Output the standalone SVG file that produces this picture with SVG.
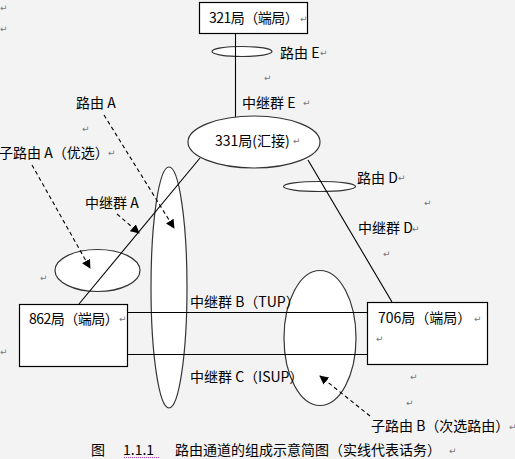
<svg xmlns="http://www.w3.org/2000/svg" width="515" height="459" viewBox="0 0 515 459">
<defs>
<style>
.t{font-family:"Noto Sans CJK SC","Noto Sans",sans-serif;font-size:14px;fill:#000}
.tt{letter-spacing:-0.5px}
.r{font-family:"DejaVu Sans",sans-serif;font-size:9px;fill:#777}
.box{fill:#fff;stroke:#000;stroke-width:1.2}
.ell{fill:#fff;stroke:#333;stroke-width:1.2}
.ln{stroke:#000;stroke-width:1.1;fill:none}
.da{stroke:#000;stroke-width:1.1;fill:none;stroke-dasharray:4 3;marker-end:url(#ah)}
</style>
<marker id="ah" viewBox="0 0 10 10" refX="9" refY="5" markerWidth="9" markerHeight="9" markerUnits="userSpaceOnUse" orient="auto">
<path d="M0,0 L10,5 L0,10 z" fill="#000"/>
</marker>
</defs>
<rect width="515" height="459" fill="#f3f3f3"/>

<g id="route-ellipses">
<ellipse id="routeA" class="ell" cx="169" cy="287.5" rx="18" ry="120.5"/>
<ellipse id="subrouteA" class="ell" cx="97.5" cy="270.5" rx="42.5" ry="21"/>
<ellipse id="subrouteB" class="ell" cx="320" cy="338" rx="36" ry="67.5"/>
<ellipse id="routeE" class="ell" cx="242" cy="51.5" rx="30" ry="5"/>
<ellipse id="routeD" class="ell" cx="319.5" cy="186.5" rx="36" ry="5"/>
</g>

<g id="connectors">
<line class="ln" x1="235.5" y1="33" x2="235.5" y2="117"/>
<line class="ln" x1="200" y1="158" x2="79" y2="304"/>
<line class="ln" x1="308" y1="160" x2="392" y2="302"/>
<line class="ln" x1="127" y1="312.5" x2="367" y2="312.5"/>
<line class="ln" x1="127" y1="354.5" x2="367" y2="354.5"/>
<line class="da" x1="104" y1="115" x2="174" y2="228"/>
<line class="da" x1="32" y1="165" x2="90" y2="268"/>
<line class="da" x1="117" y1="214" x2="139" y2="233"/>
<line class="da" x1="370" y1="416" x2="320" y2="376"/>
</g>

<g id="n321">
<rect class="box" x="199.5" y="2.5" width="108" height="31"/>
<text class="t tt" x="209" y="23">321局（端局）</text>
<text class="r" x="300" y="22">↵</text>
</g>

<g id="n331">
<ellipse class="ell" cx="254" cy="142" rx="66" ry="26"/>
<text class="t" x="215" y="146">331局(汇接)</text>
<text class="r" x="293" y="144">↵</text>
</g>

<g id="n862">
<rect class="box" x="19.5" y="304.5" width="108" height="62"/>
<text class="t tt" x="29" y="324">862局（端局）</text>
<text class="r" x="119" y="322">↵</text>
</g>

<g id="n706">
<rect class="box" x="367.5" y="302.5" width="120" height="62"/>
<text class="t" x="378" y="323">706局（端局）</text>
<text class="r" x="474" y="322">↵</text>
<text class="r" x="376" y="342">↵</text>
</g>

<g id="labels">
<text class="t" x="280" y="58">路由 E</text><text class="r" x="320" y="56">↵</text>
<text class="r" x="264" y="81">↵</text>
<text class="t" x="242" y="108">中继群 E</text><text class="r" x="303" y="106">↵</text>
<text class="t" x="76" y="108">路由 A</text>
<text class="r" x="82" y="132">↵</text>
<text class="t" x="-1" y="158">子路由 A（优选）</text><text class="r" x="108" y="156">↵</text>
<text class="t" x="85" y="208">中继群 A</text>
<text class="t" x="357" y="183">路由 D</text><text class="r" x="398" y="181">↵</text>
<text class="r" x="424" y="206">↵</text>
<text class="t" x="358" y="233">中继群 D</text><text class="r" x="412" y="232">↵</text>
<text class="r" x="383" y="257">↵</text>
<text class="r" x="40" y="281">↵</text>
<text class="r" x="0" y="355">↵</text>
<text class="t" x="190" y="307">中继群 B（TUP）</text>
<text class="t" x="190" y="382">中继群 C（ISUP）</text>
<text class="r" x="410" y="380">↵</text>
<text class="r" x="406" y="406">↵</text>
<text class="t" x="371" y="431">子路由 B（次选路由）</text><text class="r" x="509" y="430">↵</text>
<text class="r" x="0" y="11">↵</text>
<text class="r" x="0" y="32">↵</text>
</g>

<g id="caption">
<text class="t" x="91" y="455">图</text>
<text class="t" x="123" y="455">1.1.1</text>
<line x1="124" y1="457.5" x2="160" y2="457.5" stroke="#c040c0" stroke-width="1" stroke-dasharray="1 1"/>
<text class="t" x="175" y="455">路由通道的组成示意简图（实线代表话务）</text>
<text class="r" x="449" y="454">↵</text>
</g>
</svg>
